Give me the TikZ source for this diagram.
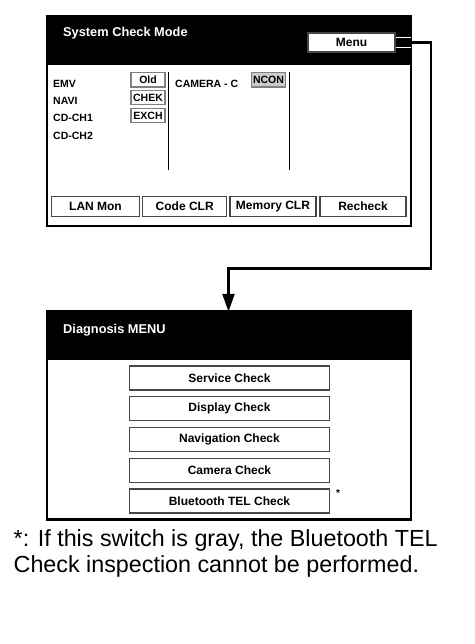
\documentclass[tikz,border=0pt]{standalone}
\usepackage{fontspec}
\setmainfont{Liberation Sans}
\usetikzlibrary{arrows.meta}
\begin{document}
\begin{tikzpicture}[x=1pt,y=-1pt,
  frame/.style={draw=black, line width=2.5pt, inner sep=0pt},
  headbar/.style={fill=black, inner sep=0pt, minimum width=364pt, minimum height=49pt},
  hdr/.style={text=white, font=\bfseries\fontsize{12.8}{14}\selectfont, inner sep=0pt, anchor=base west},
  lbl/.style={font=\bfseries\fontsize{10.5}{12}\selectfont, inner sep=0pt, anchor=base west},
  st/.style={draw=gray, line width=1.2pt, fill=white, minimum width=34pt, minimum height=14.5pt, inner sep=0pt, font=\bfseries\fontsize{10.5}{12}\selectfont},
  btn/.style={draw=gray!55!black, line width=1.3pt, fill=white, inner sep=0pt, font=\bfseries\fontsize{12}{14}\selectfont, minimum height=20pt},
  mbtn/.style={btn, minimum width=200pt, minimum height=24pt},
  divider/.style={line width=1.5pt},
  conn/.style={line width=2.5pt},
  note/.style={font=\fontsize{23.3}{26}\selectfont, inner sep=0pt, anchor=base west}]
\useasboundingbox (0,0) rectangle (474,644);
% top panel
\node[headbar] (tophead) at (229,40.5) {};
\node[frame, minimum width=364pt, minimum height=210pt] (top) at (229,121) {};
\node[hdr] (ttl) at (63,36.7) {System Check Mode};
\node[btn, minimum width=87pt, minimum height=19pt] (menu) at (351.5,42.5) {Menu};
\node[lbl] (emv) at (53,88) {EMV};
\node[lbl] (navi) at (53,105) {NAVI};
\node[lbl] (cd1) at (53,122) {CD-CH1};
\node[lbl] (cd2) at (53,139.5) {CD-CH2};
\node[st] (old) at (148,79.75) {Old};
\node[st] (chek) at (148,97.5) {CHEK};
\node[st] (exch) at (148,115.5) {EXCH};
\node[lbl] (cam) at (175,88) {CAMERA - C};
\node[st, fill=gray!40] (ncon) at (268.5,79.75) {NCON};
\coordinate (d1a) at (168.5,72); \coordinate (d1b) at (168.5,170);
\coordinate (d2a) at (289.5,72); \coordinate (d2b) at (289.5,170);
\draw[divider] (d1a) -- (d1b);
\draw[divider] (d2a) -- (d2b);
\node[btn, minimum width=87.6pt] (lan) at (95.5,206.7) {LAN Mon};
\node[btn, minimum width=84pt] (code) at (184.7,206.7) {Code CLR};
\node[btn, minimum width=86pt] (mem) at (273,206.7) {Memory CLR};
\node[btn, minimum width=86pt] (rech) at (363,206.7) {Recheck};
% bottom panel
\node[headbar] (bothead) at (229,335.5) {};
\node[frame, minimum width=364pt, minimum height=208.3pt] (bot) at (229,415.15) {};
\node[hdr] (diag) at (63,333.5) {Diagnosis MENU};
\node[mbtn] (svc) at (229.5,378) {Service Check};
\node[mbtn] (disp) at (229.5,408.75) {Display Check};
\node[mbtn] (navc) at (229.5,439.5) {Navigation Check};
\node[mbtn] (camc) at (229.5,470.25) {Camera Check};
\node[mbtn] (bt) at (229.5,501) {Bluetooth TEL Check};
\node[font=\bfseries\fontsize{10}{11}\selectfont, inner sep=0pt] (ast) at (338,493) {*};
% connector
\coordinate (c1) at (431,42.5);
\coordinate (c2) at (431,268.5);
\coordinate (c3) at (228.5,268.5);
\draw[white, line width=1pt] ([yshift=-5pt]menu.east) -- ++(15,0);
\draw[white, line width=1pt] ([yshift=5pt]menu.east) -- ++(15,0);
\draw[conn, -{Triangle[width=12pt,length=18pt]}] (menu.east) -- (c1) -- (c2) -- (c3) -- ([yshift=-2pt]c3 |- bot.north);
% footnote
\node[note] (n1) at (13.5,546.5) {*: If this switch is gray, the Bluetooth TEL};
\node[note] (n2) at (13.5,572) {Check inspection cannot be performed.};
\end{tikzpicture}
\end{document}
